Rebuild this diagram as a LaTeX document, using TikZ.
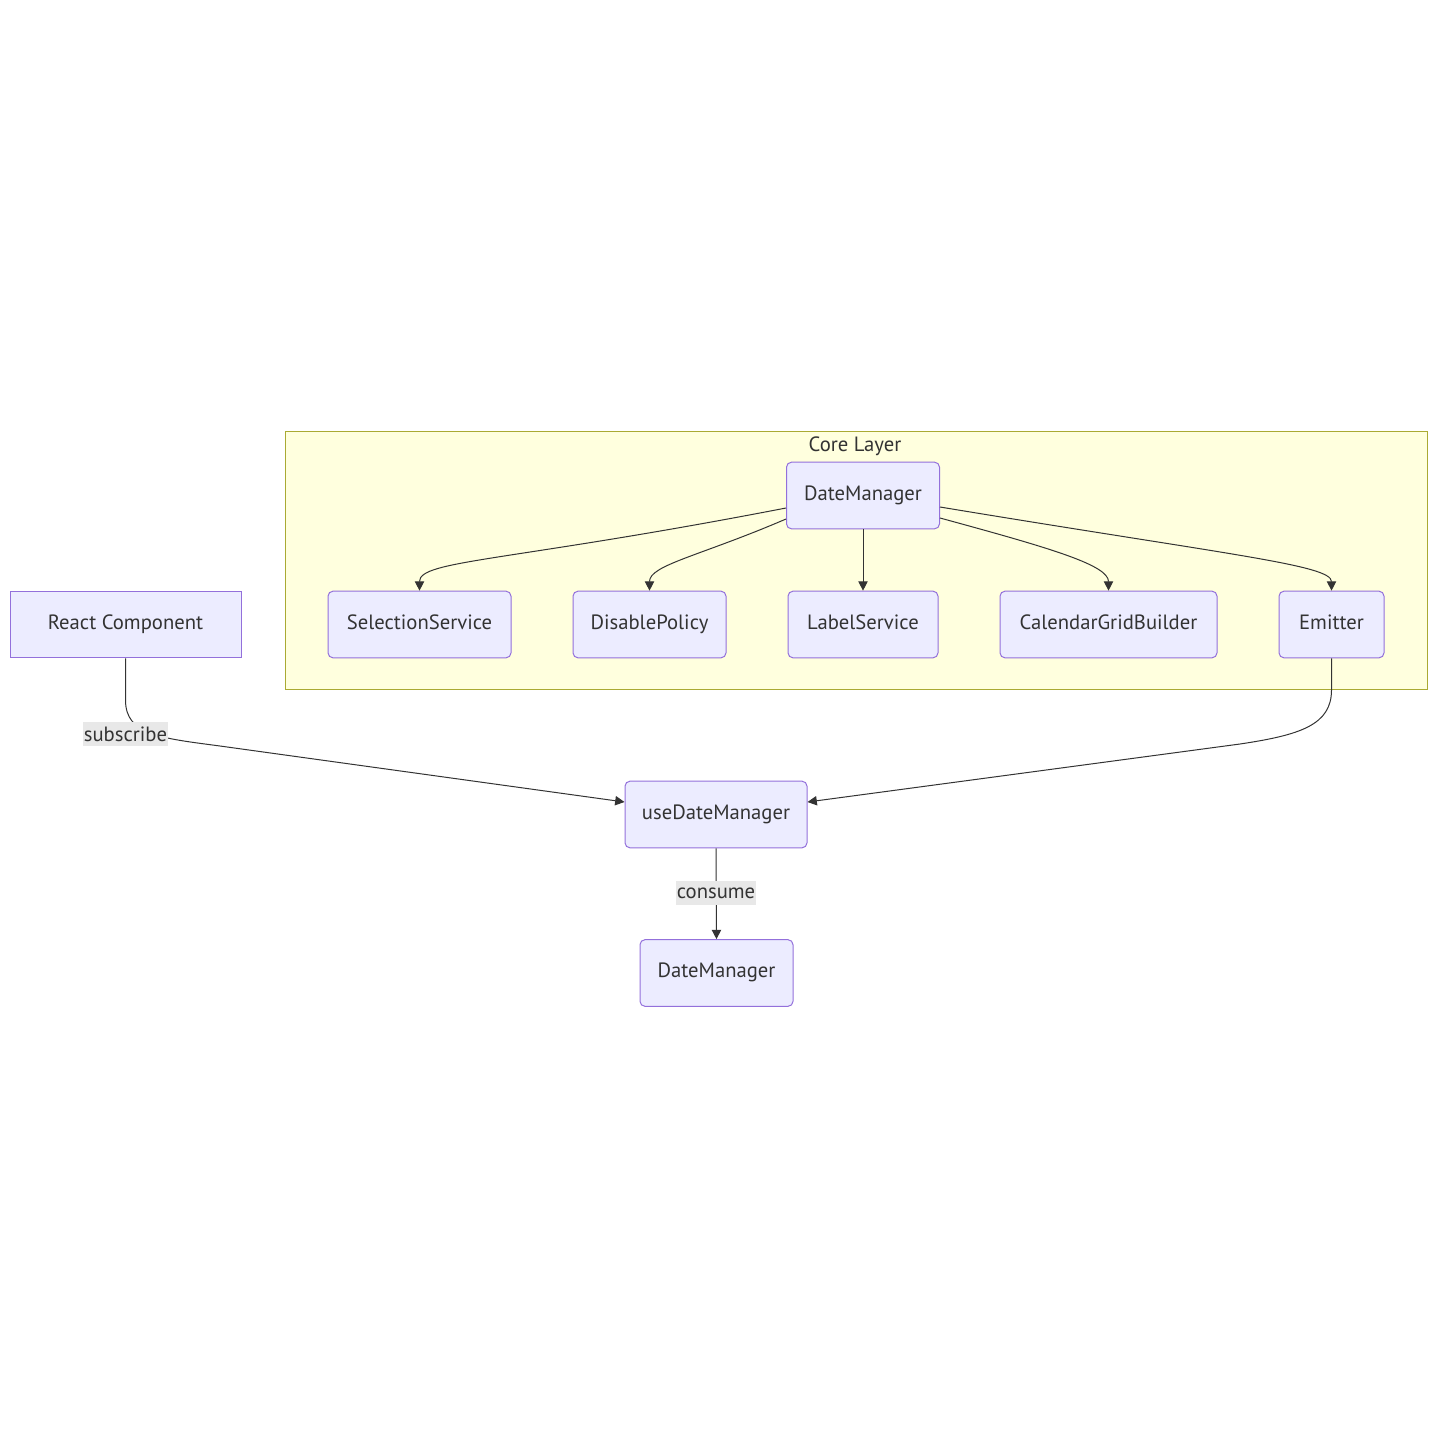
\documentclass[tikz,border=0pt]{standalone}
\usepackage{fontspec}
\setmainfont{PT Sans}
\usetikzlibrary{positioning, arrows.meta, calc}

\definecolor{nodefill}{HTML}{ECECFF}
\definecolor{nodeline}{HTML}{9370DB}
\definecolor{clusterfill}{HTML}{FFFFDE}
\definecolor{clusterline}{HTML}{AAAA33}
\definecolor{edgecol}{HTML}{333333}
\definecolor{labelfill}{HTML}{E8E8E8}

\begin{document}
\begin{tikzpicture}[
  x=0.75pt, y=-0.75pt,
  box/.style={draw=nodeline, fill=nodefill, rounded corners=3.75pt, minimum height=50pt, line width=0.75pt, font=\fontsize{15.5}{17}\selectfont, text=edgecol, text height=0.9em, text depth=0.2em},
  flatbox/.style={box, sharp corners},
  cluster/.style={draw=clusterline, fill=clusterfill, line width=0.75pt},
  op/.style={-{Triangle[length=7pt, width=7pt]}, line width=0.75pt, draw=edgecol},
  lbl/.style={fill=labelfill, inner xsep=0.5pt, inner ysep=0pt, minimum height=18pt, font=\fontsize{15.5}{17}\selectfont, text=edgecol}
]
  \useasboundingbox (0,0) rectangle (1437,1438);

  % core layer
  \draw[cluster] (285,431) rectangle (1427,689);
  \node[font=\fontsize{15.5}{17}\selectfont, text=edgecol] (title) at (855,446) {Core Layer};

  \node[box, minimum width=114.75pt] (dm) at (863,495.5) {DateManager};
  \node[box, minimum width=137.25pt] (sel) at (419.5,624.5) {SelectionService};
  \node[box, minimum width=114.75pt] (dis) at (649.5,624.5) {DisablePolicy};
  \node[box, minimum width=112.5pt] (lab) at (863,624.5) {LabelService};
  \node[box, minimum width=162.75pt] (cal) at (1108.5,624.5) {CalendarGridBuilder};
  \node[box, minimum width=78.75pt] (emi) at (1331.5,624.5) {Emitter};

  % outside
  \node[flatbox, minimum width=173.25pt] (react) at (125.5,624.5) {React Component};
  \node[box, minimum width=136.5pt] (use) at (716,814.5) {useDateManager};
  \node[box, minimum width=114.75pt] (dm2) at (716.5,973) {DateManager};

  \draw[op] ($(dm.west)+(0,12.5)$) .. controls (507,562) and (419.5,560) .. (sel.north);
  \draw[op] ($(dm.west)+(0,23.5)$) .. controls (700,556) and (649.5,565) .. (dis.north);
  \draw[op] (dm.south) -- (lab.north);
  \draw[op] ($(dm.east)+(0,22.5)$) .. controls (1050,548) and (1108.5,565) .. (cal.north);
  \draw[op] ($(dm.east)+(0,11.5)$) .. controls (1230,555) and (1331.5,565) .. (emi.north);

  \draw[op] (react.south) -- (125.5,700) .. controls (125.5,735) and (160,738) .. (220,746) -- ($(use.west)+(0,-12.5)$);
  \node[lbl] (sub) at (125.5,734) {subscribe};
  \draw[op] (emi.south) -- (1331.5,690) .. controls (1331.5,725) and (1300,735) .. (1240,744) -- ($(use.east)+(0,-12.5)$);
  \draw[op] (use.south) -- (dm2.north);
  \node[lbl] (con) at (716,893) {consume};
\end{tikzpicture}
\end{document}
